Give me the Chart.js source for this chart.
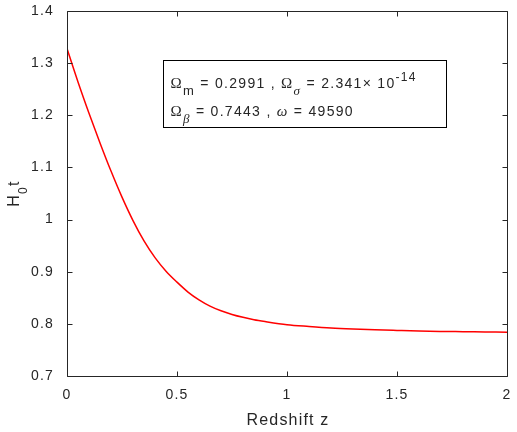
<!DOCTYPE html>
<html><head><meta charset="utf-8">
<script src="https://cdn.jsdelivr.net/npm/chart.js@4/dist/chart.umd.min.js"></script>
<style>html,body{margin:0;padding:0;background:#fff;} canvas{display:block;}</style>
</head><body>
<canvas id="c" width="517" height="432"></canvas>
<script>
// ---- data ----
const redshift = [0, 0.05, 0.1, 0.15, 0.2, 0.25, 0.3, 0.35, 0.4, 0.45, 0.5, 0.55, 0.6, 0.65, 0.7, 0.75, 0.8, 0.85, 0.9, 1.0, 1.1, 1.2, 1.3, 1.4, 1.5, 1.6, 1.7, 1.8, 1.9, 2.0];
const h0t = [1.328, 1.264, 1.204, 1.147, 1.093, 1.043, 0.998, 0.959, 0.927, 0.901, 0.880, 0.861, 0.846, 0.834, 0.825, 0.818, 0.8125, 0.808, 0.8045, 0.7985, 0.795, 0.792, 0.790, 0.7885, 0.7873, 0.7862, 0.7855, 0.785, 0.7845, 0.784];
const xTicks = [0, 0.5, 1, 1.5, 2];
const yTicks = [0.7, 0.8, 0.9, 1.0, 1.1, 1.2, 1.3, 1.4];
const xTitle = 'Redshift z';
const yTitleRuns = [['H', 'main'], ['0', 'sub'], ['t', 'main']];
const noteLine1 = [['Ω', 'greek'], ['m', 'sub'], [' = 0.2991 , ', 'text'], ['Ω', 'greek'], ['σ', 'subgreek'], [' = 2.341', 'text'], ['×', 'text'], [' 10', 'text'], ['-14', 'sup']];
const noteLine2 = [['Ω', 'greek'], ['β', 'subgreek'], [' = 0.7443 , ', 'text'], ['ω', 'itgreek'], [' = 49590', 'text']];
const noteBox = {x0: 0.436, x1: 1.723, y0: 1.306, y1: 1.1775};

const SANS = '"Liberation Sans", Arial, Helvetica, sans-serif';
const SERIF = '"Liberation Serif", "Times New Roman", serif';
const INK = '#262626';

function fmt(v) { return String(+(+v).toFixed(2)); }

function drawRuns(ctx, runs, x, y, fonts, spacing) {
  ctx.letterSpacing = spacing;
  ctx.textBaseline = 'alphabetic';
  ctx.textAlign = 'left';
  let cx = x;
  for (const [t, k] of runs) {
    const f = fonts[k];
    ctx.font = f.font;
    ctx.fillText(t, cx, y + f.dy);
    cx += ctx.measureText(t).width;
  }
  return cx - x;
}
function runsWidth(ctx, runs, fonts, spacing) {
  ctx.letterSpacing = spacing;
  let w = 0;
  for (const [t, k] of runs) { ctx.font = fonts[k].font; w += ctx.measureText(t).width; }
  return w;
}

const decor = {
  id: 'decor',
  beforeDraw(chart) { chart.ctx.letterSpacing = '1.2px'; },
  afterDraw(chart) {
    const ctx = chart.ctx;
    const xs = chart.scales.x, ys = chart.scales.y;
    const {left, right, top, bottom} = chart.chartArea;
    const L = Math.round(left) + 0.5, R = Math.round(right) + 0.5, T = Math.round(top) + 0.5, B = Math.round(bottom) + 0.5;
    ctx.save();
    ctx.strokeStyle = INK; ctx.lineWidth = 1;
    ctx.beginPath();
    ctx.rect(L, T, R - L, B - T);
    const tl = 5;
    for (const v of xTicks) {
      const p = Math.round(xs.getPixelForValue(v)) + 0.5;
      ctx.moveTo(p, B); ctx.lineTo(p, B - tl);
      ctx.moveTo(p, T); ctx.lineTo(p, T + tl);
    }
    for (const v of yTicks) {
      const p = Math.round(ys.getPixelForValue(v)) + 0.5;
      ctx.moveTo(L, p); ctx.lineTo(L + tl, p);
      ctx.moveTo(R, p); ctx.lineTo(R - tl, p);
    }
    ctx.stroke();

    ctx.fillStyle = INK;
    // x title
    ctx.font = '16px ' + SANS;
    ctx.letterSpacing = '1.2px';
    ctx.textAlign = 'center'; ctx.textBaseline = 'alphabetic';
    ctx.fillText(xTitle, (left + right) / 2 + 1, 425);

    // y title (rotated)
    const yFonts = {main: {font: '16px ' + SANS, dy: 0}, sub: {font: '12px ' + SANS, dy: 8}};
    const yw = runsWidth(ctx, yTitleRuns, yFonts, '1.2px');
    ctx.save();
    ctx.translate(18.5, (top + bottom) / 2);
    ctx.rotate(-Math.PI / 2);
    drawRuns(ctx, yTitleRuns, -yw / 2, 0, yFonts, '1.2px');
    ctx.restore();

    // annotation box
    const bx0 = Math.round(xs.getPixelForValue(noteBox.x0)) + 0.5;
    const bx1 = Math.round(xs.getPixelForValue(noteBox.x1)) + 0.5;
    const by0 = Math.round(ys.getPixelForValue(noteBox.y0)) + 0.5;
    const by1 = Math.round(ys.getPixelForValue(noteBox.y1)) + 0.5;
    ctx.fillStyle = '#ffffff';
    ctx.fillRect(bx0, by0, bx1 - bx0, by1 - by0);
    ctx.strokeStyle = '#000000';
    ctx.strokeRect(bx0, by0, bx1 - bx0, by1 - by0);
    ctx.fillStyle = INK;
    const nFonts = {
      greek: {font: '15px ' + SERIF, dy: 0},
      text: {font: '14px ' + SANS, dy: 0},
      sub: {font: '13px ' + SANS, dy: 7},
      subgreek: {font: 'italic 13px ' + SERIF, dy: 7},
      itgreek: {font: 'italic 15px ' + SERIF, dy: 0},
      sup: {font: '12px ' + SANS, dy: -7}
    };
    drawRuns(ctx, noteLine1, bx0 + 7, by0 + 27, nFonts, '1.3px');
    drawRuns(ctx, noteLine2, bx0 + 7, by0 + 55, nFonts, '1.3px');
    ctx.restore();
  }
};

new Chart(document.getElementById('c'), {
  type: 'line',
  data: {
    datasets: [{
      data: redshift.map((z, i) => ({x: z, y: h0t[i]})),
      borderColor: '#ff0000',
      borderWidth: 1.5,
      pointRadius: 0,
      fill: false,
      cubicInterpolationMode: 'monotone'
    }]
  },
  options: {
    responsive: false,
    devicePixelRatio: 1,
    animation: false,
    events: [],
    layout: {padding: {top: 11, right: 10, left: 0, bottom: 0}},
    plugins: {legend: {display: false}, tooltip: {enabled: false}},
    scales: {
      x: {
        type: 'linear', min: 0, max: 2,
        afterBuildTicks: s => { s.ticks = xTicks.map(v => ({value: v})); },
        afterFit: s => { s.height = 56; s.paddingLeft = 0; s.paddingRight = 0; },
        grid: {display: false}, border: {display: false},
        ticks: {callback: fmt, color: INK, font: {family: SANS, size: 14}, padding: 3, maxRotation: 0, autoSkip: false}
      },
      y: {
        type: 'linear', min: 0.7, max: 1.4,
        afterBuildTicks: s => { s.ticks = yTicks.map(v => ({value: v})); },
        afterFit: s => { s.width = 67; s.paddingTop = 0; s.paddingBottom = 0; },
        grid: {display: false}, border: {display: false},
        ticks: {callback: fmt, color: INK, font: {family: SANS, size: 14}, padding: 5, autoSkip: false}
      }
    }
  },
  plugins: [decor]
});
</script>
</body></html>
